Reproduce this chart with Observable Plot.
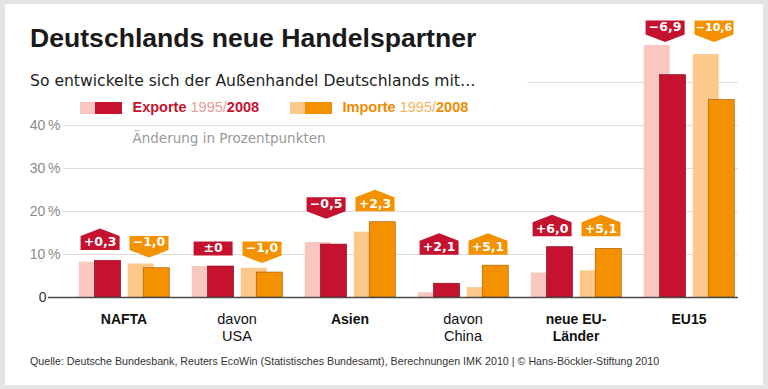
<!DOCTYPE html>
<html><head><meta charset="utf-8">
<script src="https://cdn.jsdelivr.net/npm/d3@7"></script>
<script src="https://cdn.jsdelivr.net/npm/@observablehq/plot@0.6"></script>
<style>
html,body{margin:0;padding:0;background:#fff;}
#wrap{position:relative;width:768px;height:389px;overflow:hidden;background:#e4e4e4;font-family:"Liberation Sans",Arial,sans-serif;}
#inner{position:absolute;left:5px;top:4px;width:758px;height:381px;background:#fff;}
#chart{position:absolute;left:0;top:0;}
.t{position:absolute;white-space:nowrap;line-height:1;}
.sw{position:absolute;height:12px;}
</style></head><body>
<div id="wrap">
<div id="inner"></div>
<div id="chart"></div>
<div class="t" id="title" style="left:30px;top:24.6px;font-size:26.6px;font-weight:bold;color:#1a1a1a;">Deutschlands neue Handelspartner</div>
<div class="t" id="sub" style="left:30px;top:74px;font-size:15.6px;color:#222;font-family:'DejaVu Sans';">So entwickelte sich der Außenhandel Deutschlands mit…</div>
<div class="sw" style="left:80px;top:101.5px;width:16px;background:#f8c8c0;"></div>
<div class="sw" style="left:95px;top:101.5px;width:27px;background:#c5122f;"></div>
<div class="t" style="left:132.5px;top:100.4px;font-size:14.5px;"><b style="color:#c5122f">Exporte</b> <span style="color:#e89a9a">1995/</span><b style="color:#c5122f">2008</b></div>
<div class="sw" style="left:290px;top:101.5px;width:16px;background:#fcc98b;"></div>
<div class="sw" style="left:305px;top:101.5px;width:27px;background:#f39100;"></div>
<div class="t" style="left:342.5px;top:100.4px;font-size:14.5px;"><b style="color:#f08a00">Importe</b> <span style="color:#f8b45c">1995/</span><b style="color:#f08a00">2008</b></div>
<div class="t" style="left:132.5px;top:132px;font-size:13.5px;color:#999;font-family:'DejaVu Sans';">Änderung in Prozentpunkten</div>
<div class="t" style="left:30px;top:355.5px;font-size:10.7px;color:#333;">Quelle: Deutsche Bundesbank, Reuters EcoWin (Statistisches Bundesamt), Berechnungen IMK 2010 | © Hans-Böckler-Stiftung 2010</div>
</div>
<script>
// ---- data ----
const groups = ["NAFTA", "davon\nUSA", "Asien", "davon\nChina", "neue EU-\nLänder", "EU15"];
const boldGroups = ["NAFTA", "Asien", "neue EU-\nLänder", "EU15"];
const normalGroups = ["davon\nUSA", "davon\nChina"];
const exports1995 = [8.2, 7.2, 12.8, 1.1, 5.7, 58.6];
const exports2008 = [8.5, 7.2, 12.3, 3.2, 11.7, 51.7];
const imports1995 = [7.8, 6.8, 15.2, 2.3, 6.2, 56.5];
const imports2008 = [6.8, 5.8, 17.5, 7.4, 11.3, 45.9];
const exportChange = ["+0,3", "±0", "−0,5", "+2,1", "+6,0", "−6,9"];
const importChange = ["−1,0", "−1,0", "+2,3", "+5,1", "+5,1", "−10,6"];
const yTicks = [10, 20, 30, 40];

const rows = groups.map((g, i) => ({
  group: g,
  e95: exports1995[i], e08: exports2008[i],
  i95: imports1995[i], i08: imports2008[i],
  eLab: exportChange[i], iLab: importChange[i],
  top: Math.max(exports1995[i], exports2008[i], imports1995[i], imports2008[i])
}));

const RED = "#c5122f", PINK = "#f8c8c0", ORANGE = "#f39100", LORANGE = "#fcc98b";

const badge = (dir) => ({
  draw(ctx) {
    const w = 19.5, h = 7, p = 7.5;
    ctx.moveTo(-w, -h);
    if (dir > 0) ctx.lineTo(0, -h - p);
    ctx.lineTo(w, -h);
    ctx.lineTo(w, h);
    if (dir < 0) ctx.lineTo(0, h + p);
    ctx.lineTo(-w, h);
    ctx.closePath();
  }
});
const dirOf = (s) => s[0] === "+" ? 1 : s[0] === "±" ? 0 : -1;

const bw = (746 - 65) / groups.length;
const ins = (l, w = 26.5) => ({insetLeft: l, insetRight: bw - l - w});

const badgeMarks = [];
for (const [key, dx, color] of [["eLab", -23.9, RED], ["iLab", 25, ORANGE]]) {
  for (const dir of [1, 0, -1]) {
    badgeMarks.push(Plot.dot(rows, {
      filter: d => dirOf(d[key]) === dir,
      x: "group", y: "top", dx, dy: -18,
      symbol: badge(dir), fill: color, stroke: "none", r: 10
    }));
  }
  for (const long of [false, true]) {
    badgeMarks.push(Plot.text(rows, {
      filter: d => (d[key].length > 4) === long,
      x: "group", y: "top", text: key, dx, dy: -18.5,
      fill: "white", fontWeight: "bold", fontSize: long ? 11 : 12.5, fontFamily: "DejaVu Sans"
    }));
  }
}

const chart = Plot.plot({
  width: 768, height: 389,
  marginLeft: 65, marginRight: 22, marginTop: 82, marginBottom: 92,
  style: {background: "transparent", fontFamily: "Liberation Sans"},
  x: {type: "band", domain: groups, padding: 0, axis: null, label: null},
  y: {domain: [0, 50], axis: null, label: null},
  marks: [
    Plot.ruleY(yTicks, {stroke: "#dcdcdc", insetLeft: -2, insetRight: 8}),
    Plot.ruleY([50], {stroke: "#dcdcdc", insetLeft: 462, insetRight: 8}),
    Plot.barY(rows, {x: "group", y: "e95", fill: PINK, ...ins(11.75)}),
    Plot.barY(rows, {x: "group", y: "e08", fill: RED, stroke: "#8e0c22", strokeWidth: 0.7, ...ins(27.5)}),
    Plot.barY(rows, {x: "group", y: "i95", fill: LORANGE, ...ins(60.75)}),
    Plot.barY(rows, {x: "group", y: "i08", fill: ORANGE, stroke: "#a86200", strokeWidth: 0.7, ...ins(76.25)}),
    Plot.ruleY([0], {stroke: "#4a4a4a", strokeWidth: 1.5, insetLeft: -17, insetRight: 8}),
    Plot.axisY(yTicks, {tickSize: 0, tickPadding: 5, tickFormat: d => d + "\u2009%", fill: "#8a8a8a", fontSize: 14, label: null}),
    Plot.axisY([0], {tickSize: 0, tickPadding: 19, tickFormat: d => String(d), fill: "#333", fontSize: 14, label: null}),
    Plot.axisX(boldGroups, {tickSize: 0, tickPadding: 15, fontWeight: "bold", fontSize: 14, fill: "#111", lineHeight: 1.18, label: null}),
    Plot.axisX(normalGroups, {tickSize: 0, tickPadding: 15, fontSize: 14.5, fill: "#111", lineHeight: 1.15, label: null}),
    ...badgeMarks
  ]
});
document.getElementById("chart").appendChild(chart);
</script>
</body></html>
